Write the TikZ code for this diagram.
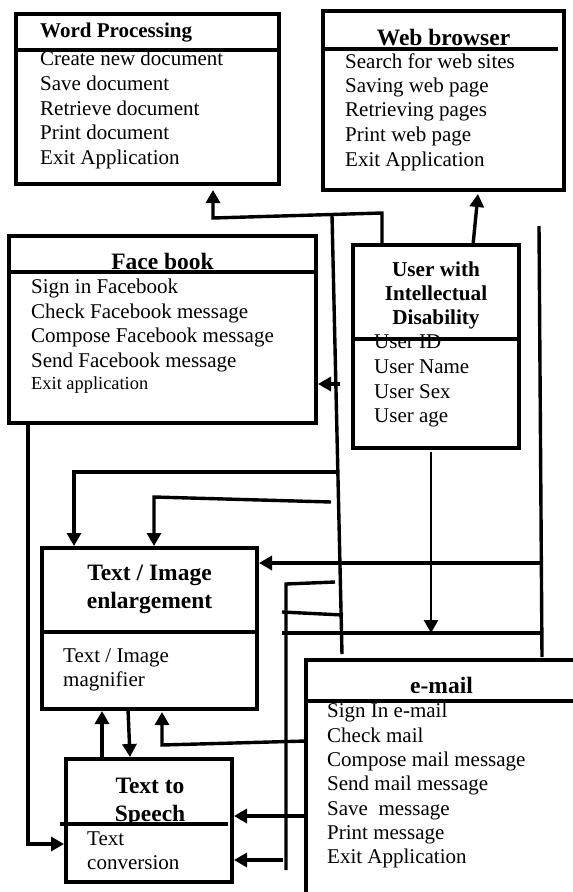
\documentclass[tikz,border=0pt]{standalone}
\usepackage{fontspec}
\setmainfont{Liberation Serif}
\usetikzlibrary{arrows.meta,calc}
\begin{document}
\begin{tikzpicture}[x=1pt,y=-1pt,
 box/.style={draw, line width=4.1pt, inner sep=0pt, outer sep=0pt, anchor=north west},
 sepline/.style={line width=3.5pt},
 conn/.style={line width=3.4pt},
 thinconn/.style={line width=2.8pt},
 arr/.style={-{Triangle[length=13pt,width=14pt]}},
 item/.style={anchor=base west, inner sep=0pt, font=\fontsize{21}{24}\selectfont},
 smallitem/.style={anchor=base west, inner sep=0pt, font=\fontsize{18.4}{22}\selectfont},
 ttl/.style={anchor=base, inner sep=0pt, font=\bfseries\fontsize{23.5}{28}\selectfont},
 ttlsmall/.style={anchor=base, inner sep=0pt, font=\bfseries\fontsize{21.2}{25}\selectfont}]
\fill[white] (0,0) rectangle (573,892);
\useasboundingbox (0,0) rectangle (573,892);

% boxes
\node[box, minimum width=263pt, minimum height=170pt] (wp) at (16,14) {};
\node[box, minimum width=241pt, minimum height=179pt] (wb) at (323,11) {};
\node[box, minimum width=307pt, minimum height=187pt] (fb) at (9,236) {};
\node[box, minimum width=166pt, minimum height=203pt] (user) at (353,245) {};
\node[box, minimum width=215pt, minimum height=161pt] (ti) at (42,548) {};
\node[box, minimum width=166pt, minimum height=123pt] (tts) at (66,759) {};
\node[box, draw=none, minimum width=267pt, minimum height=232pt] (em) at (306,660) {};
\draw[line width=4.1pt] (em.north east) -- (em.north west) -- (em.south west);

% separators
\draw[sepline] ([yshift=-36pt]wp.north west) -- ([yshift=-36pt]wp.north east);
\draw[sepline] ([yshift=-38pt]wb.north west) -- ([xshift=-6pt,yshift=-38pt]wb.north east);
\draw[sepline] ([xshift=-2pt,yshift=-36pt]fb.north west) -- ([yshift=-36pt]fb.north east);
\draw[sepline] ([yshift=-94pt]user.north west) -- ([yshift=-94pt]user.north east);
\draw[sepline] ([yshift=-84pt]ti.north west) -- ([yshift=-84pt]ti.north east);
\draw[sepline] ([xshift=-6pt,yshift=-65pt]tts.north west) -- ([xshift=-4pt,yshift=-65pt]tts.north east);
\draw[sepline] ([yshift=-41pt]em.north west) -- ([yshift=-41pt]em.north east);

% Word Processing texts
\node[item, font=\bfseries\fontsize{21}{24}\selectfont] (wpt) at (40,37) {Word Processing};
\node[item] (wp1) at (40,65) {Create new document};
\node[item] (wp2) at (40,90) {Save document};
\node[item] (wp3) at (40,115) {Retrieve document};
\node[item] (wp4) at (40,139) {Print document};
\node[item] (wp5) at (40,164) {Exit Application};

% Web browser texts
\node[ttl] (wbt) at (443.5,45) {Web browser};
\node[item] (wb1) at (345,68) {Search for web sites};
\node[item] (wb2) at (345,92) {Saving web page};
\node[item] (wb3) at (345,116) {Retrieving pages};
\node[item] (wb4) at (345,141) {Print web page};
\node[item] (wb5) at (345,166) {Exit Application};

% Face book texts
\node[ttl] (fbt) at (162.5,269) {Face book};
\node[item] (fb1) at (31,293) {Sign in Facebook};
\node[item] (fb2) at (31,318) {Check Facebook message};
\node[item] (fb3) at (31,342) {Compose Facebook message};
\node[item] (fb4) at (31,367) {Send Facebook message};
\node[smallitem] (fb5) at (31,389) {Exit application};

% User texts
\node[ttlsmall] (ut1) at (436,276) {User with};
\node[ttlsmall] (ut2) at (436,300) {Intellectual};
\node[ttlsmall] (ut3) at (436,324) {Disability};
\node[item] (u1) at (374,348) {User ID};
\node[item] (u2) at (374,373) {User Name};
\node[item] (u3) at (374,398) {User Sex};
\node[item] (u4) at (374,422) {User age};

% Text / Image enlargement texts
\node[ttl] (tit1) at (149.5,580) {Text / Image};
\node[ttl] (tit2) at (149.5,608) {enlargement};
\node[item] (ti1) at (63,662) {Text / Image};
\node[item] (ti2) at (63,686) {magnifier};

% Text to Speech texts
\node[ttl] (ttst1) at (150,793) {Text to};
\node[ttl] (ttst2) at (150,821) {Speech};
\node[item] (tts1) at (87,845) {Text};
\node[item] (tts2) at (87,869) {conversion};

% e-mail texts
\node[ttl] (emt) at (441.5,693) {e-mail};
\node[item] (em1) at (327,717) {Sign In e-mail};
\node[item] (em2) at (327,742) {Check mail};
\node[item] (em3) at (327,766) {Compose mail message};
\node[item] (em4) at (327,790) {Send mail message};
\node[item] (em5) at (327,815) {Save~ message};
\node[item] (em6) at (327,839) {Print message};
\node[item] (em7) at (327,863) {Exit Application};

% connectors
\coordinate (k1) at (382,213);
\coordinate (k2) at (213,218);
\draw[conn,arr] (user.north -| k1) -- (k1) -- (k2) -- ($(k2 |- wp.south)+(0,6)$);

\coordinate (k4) at (473,0);
\coordinate (k5) at (478,0);
\draw[conn,arr] (user.north -| k4) -- ($(k5 |- wb.south)+(0,4)$);

\coordinate (k6) at (340,384);
\draw[conn,arr] (k6) -- ($(k6 -| fb.east)+(2,0)$);

\coordinate (k7) at (332,215);
\coordinate (k8) at (342,654);
\draw[conn] (k7) -- (k8);

\coordinate (k9) at (336,472);
\coordinate (k10) at (74,472);
\draw[conn,arr] (k9) -- (k10) -- ($(k10 |- ti.north)+(0,-2)$);

\coordinate (k11) at (331,502);
\coordinate (k12) at (154,497);
\draw[conn,arr] (k11) -- (k12) -- ($(k12 |- ti.north)+(0,-2)$);

\coordinate (k13) at (539,226);
\coordinate (k14) at (542,657);
\draw[conn] (k13) -- (k14);

\coordinate (k15) at (540,563);
\draw[conn,arr] (k15) -- ($(k15 -| ti.east)+(2,0)$);

\coordinate (k16) at (431,633);
\draw[thinconn,arr] ($(user.south -| k16)+(0,4)$) -- (k16);

\coordinate (k17) at (282,633);
\coordinate (k18) at (543,633);
\draw[conn] (k17) -- (k18);

\coordinate (k19) at (282,612);
\coordinate (k20) at (343,615);
\draw[conn] (k19) -- (k20);

\coordinate (k21) at (335,582);
\coordinate (k22) at (286,584);
\coordinate (k23) at (286,870);
\draw[conn] (k21) -- (k22) -- (k23);

\coordinate (k24) at (283,860);
\draw[conn,arr] (k24) -- ($(k24 -| tts.east)+(2,0)$);

\coordinate (k25) at (0,816);
\draw[conn,arr] (k25 -| em.west) -- ($(k25 -| tts.east)+(2,0)$);

\coordinate (k26) at (0,741);
\coordinate (k27) at (162,745);
\draw[conn,arr] (k26 -| em.west) -- (k27) -- ($(k27 |- ti.south)+(0,3)$);

\coordinate (k28) at (28,844);
\draw[conn,arr] (fb.south -| k28) -- (k28) -- ($(k28 -| tts.west)+(-2,0)$);

\coordinate (k29) at (102,0);
\draw[conn,arr] (tts.north -| k29) -- ($(k29 |- ti.south)+(0,2)$);

\coordinate (k30) at (128,0);
\coordinate (k31) at (130,0);
\draw[conn,arr] (ti.south -| k30) -- ($(k31 |- tts.north)+(0,-2)$);
\end{tikzpicture}
\end{document}
